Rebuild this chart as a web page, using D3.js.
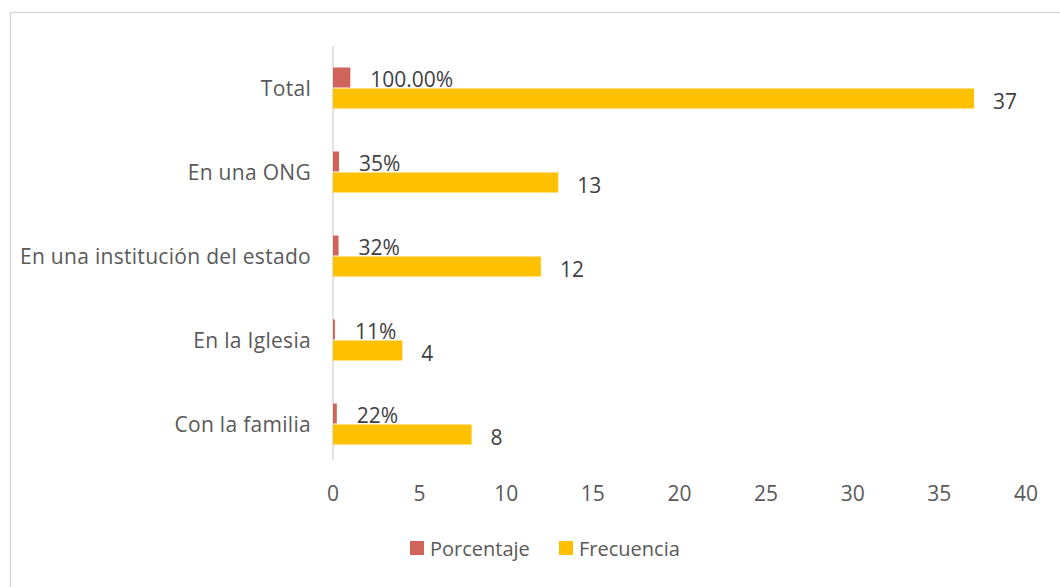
<!DOCTYPE html>
<html>
<head>
<meta charset="utf-8">
<script src="https://cdn.jsdelivr.net/npm/d3@7"></script>
<style>
  body { margin: 0; background: #fff; }
  svg { font-family: "Open Sans", sans-serif; }
</style>
</head>
<body>
<svg width="1060" height="587"></svg>
<script>
var categories = ["Total", "En una ONG", "En una institución del estado", "En la Iglesia", "Con la familia"];
var porcentaje = [1, 0.35, 0.32, 0.11, 0.22];
var porcentajeLabels = ["100.00%", "35%", "32%", "11%", "22%"];
var frecuencia = [37, 13, 12, 4, 8];
var xTicks = [0, 5, 10, 15, 20, 25, 30, 35, 40];

var svg = d3.select("svg");

// chart border
svg.append("rect")
    .attr("x", 10.5).attr("y", 12.5)
    .attr("width", 1060).attr("height", 600)
    .attr("fill", "none").attr("stroke", "#d9d9d9").attr("stroke-width", 1.5);

var x = d3.scaleLinear().domain([0, 40]).range([333, 1026]);
var y = d3.scaleBand().domain(categories).range([46, 466]).paddingInner(0).paddingOuter(0);
var barH = 20;

// axis line
svg.append("line")
    .attr("x1", x(0)).attr("x2", x(0))
    .attr("y1", 46).attr("y2", 460)
    .attr("stroke", "#d9d9d9").attr("stroke-width", 1.5);

var g = svg.selectAll(".cat")
  .data(categories)
  .enter().append("g")
    .attr("class", "cat");

g.append("rect")
    .attr("x", x(0))
    .attr("y", function(d) { return y(d) + y.bandwidth() / 2 - barH - 0.5; })
    .attr("width", function(d, i) { return x(porcentaje[i]) - x(0); })
    .attr("height", barH)
    .attr("fill", "#d0635a");

g.append("rect")
    .attr("x", x(0))
    .attr("y", function(d) { return y(d) + y.bandwidth() / 2 + 0.5; })
    .attr("width", function(d, i) { return x(frecuencia[i]) - x(0); })
    .attr("height", barH)
    .attr("fill", "#ffc000");

g.append("text")
    .attr("x", function(d, i) { return x(porcentaje[i]) + 20; })
    .attr("y", function(d) { return y(d) + y.bandwidth() / 2 - 1; })
    .attr("font-size", 21)
    .attr("fill", "#404040")
    .text(function(d, i) { return porcentajeLabels[i]; });

g.append("text")
    .attr("x", function(d, i) { return x(frecuencia[i]) + 19; })
    .attr("y", function(d) { return y(d) + y.bandwidth() / 2 + 21; })
    .attr("font-size", 21)
    .attr("fill", "#404040")
    .text(function(d, i) { return frecuencia[i]; });

// category labels
g.append("text")
    .attr("x", 311)
    .attr("y", function(d) { return y(d) + y.bandwidth() / 2 + 8; })
    .attr("text-anchor", "end")
    .attr("font-size", 21)
    .attr("letter-spacing", 0.3)
    .attr("fill", "#595959")
    .text(function(d) { return d; });

// x tick labels
svg.selectAll(".tick")
  .data(xTicks)
  .enter().append("text")
    .attr("x", function(d) { return x(d); })
    .attr("y", 501)
    .attr("text-anchor", "middle")
    .attr("font-size", 21)
    .attr("fill", "#595959")
    .text(function(d) { return d; });

// legend
var legend = [["Porcentaje", "#d0635a", 410], ["Frecuencia", "#ffc000", 559]];
var lg = svg.selectAll(".legend")
  .data(legend)
  .enter().append("g");
lg.append("rect")
    .attr("x", function(d) { return d[2]; })
    .attr("y", 541)
    .attr("width", 14).attr("height", 14)
    .attr("fill", function(d) { return d[1]; });
lg.append("text")
    .attr("x", function(d) { return d[2] + 20; })
    .attr("y", 556)
    .attr("font-size", 20)
    .attr("fill", "#595959")
    .text(function(d) { return d[0]; });
</script>
</body>
</html>
